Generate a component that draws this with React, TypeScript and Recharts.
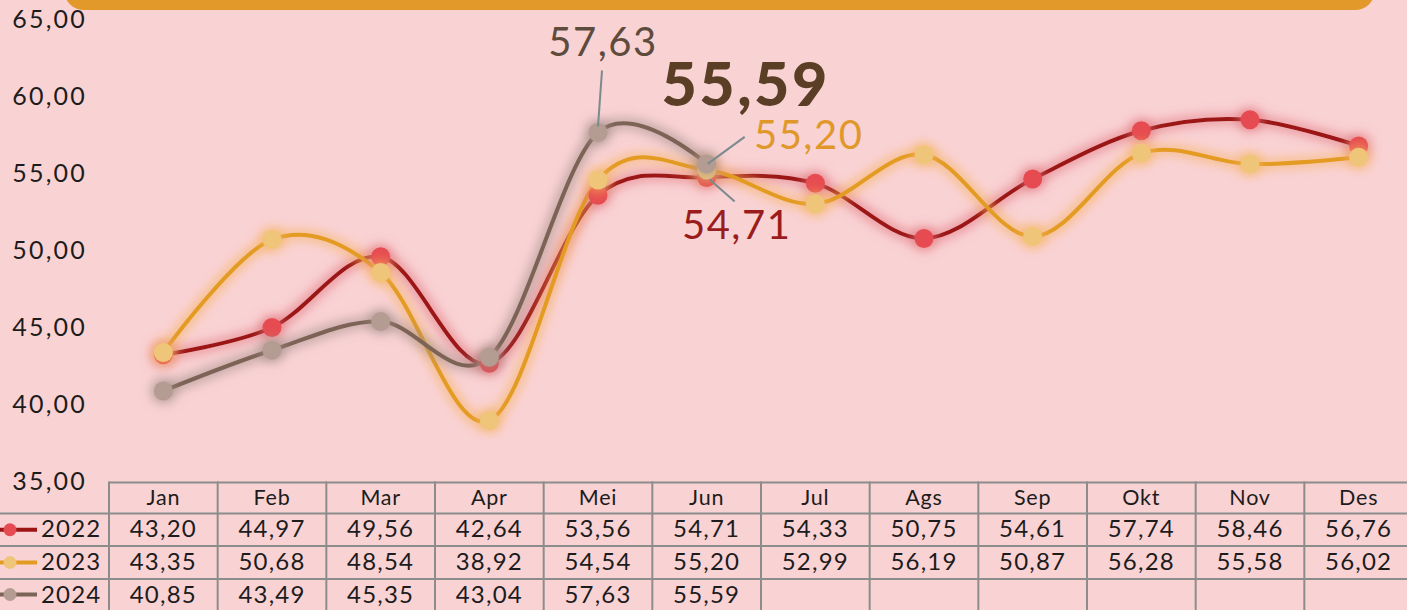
import React from 'react';
import { LineChart, Line, XAxis, YAxis } from 'recharts';

const months = ['Jan', 'Feb', 'Mar', 'Apr', 'Mei', 'Jun', 'Jul', 'Ags', 'Sep', 'Okt', 'Nov', 'Des'];
const values2022 = [43.2, 44.97, 49.56, 42.64, 53.56, 54.71, 54.33, 50.75, 54.61, 57.74, 58.46, 56.76];
const values2023 = [43.35, 50.68, 48.54, 38.92, 54.54, 55.2, 52.99, 56.19, 50.87, 56.28, 55.58, 56.02];
const values2024: (number | null)[] = [40.85, 43.49, 45.35, 43.04, 57.63, 55.59, null, null, null, null, null, null];
const yTicks = [35, 40, 45, 50, 55, 60, 65];

const data = months.map((m, i) => ({
  month: m,
  y2022: values2022[i],
  y2023: values2023[i],
  y2024: values2024[i],
}));

const series = [
  { key: 'y2022', name: '2022', line: '#9c1515', dot: '#e64b51', glow: '#e0717a' },
  { key: 'y2023', name: '2023', line: '#e39b22', dot: '#efc57a', glow: '#f5b25a' },
  { key: 'y2024', name: '2024', line: '#7b6457', dot: '#b49c93', glow: '#a08a84' },
];

const annotations = [
  { key: 'y2024', month: 'Mei', dx: 5, dy: -76, size: 40, weight: 400, color: '#5e4b3c', leader: [4, -62, 0, -6] },
  { key: 'y2024', month: 'Jun', dx: 39, dy: -58, size: 61, weight: 900, color: '#5a3e25', leader: null },
  { key: 'y2023', month: 'Jun', dx: 102, dy: -21, size: 40, weight: 400, color: '#e0982a', leader: [38, -33, 1, -6] },
  { key: 'y2022', month: 'Jun', dx: 30, dy: 62, size: 40, weight: 400, color: '#9b1c1c', leader: [3, 2, 28, 24] },
];

const FONT = 'Lato, "Open Sans", sans-serif';
const CHART_W = 1413;
const CHART_H = 610;
const Y_AXIS_W = 109;
const X_AXIS_H = 129;
const BAND = (CHART_W - Y_AXIS_W) / months.length;
const GRID = '#8c8c8c';

const fmt = (v: number | null | undefined) => (v == null ? '' : v.toFixed(2).replace('.', ','));

// Cardinal (Catmull-Rom like) spline, tension 0 – similar to spreadsheet smoothing
function smoothCurve(context: any) {
  let x0 = NaN, y0 = NaN, x1 = NaN, y1 = NaN, x2 = NaN, y2 = NaN;
  let pt = 0;
  let line: number = NaN;
  const k = 1 / 6;
  const seg = (x: number, y: number) => {
    context.bezierCurveTo(x1 + k * (x2 - x0), y1 + k * (y2 - y0), x2 + k * (x1 - x), y2 + k * (y1 - y), x2, y2);
  };
  return {
    areaStart() { line = 0; },
    areaEnd() { line = NaN; },
    lineStart() { x0 = x1 = x2 = y0 = y1 = y2 = NaN; pt = 0; },
    lineEnd() {
      if (pt === 2) context.lineTo(x2, y2);
      else if (pt === 3) seg(x1, y1);
      if (line || (line !== 0 && pt === 1)) context.closePath();
      line = 1 - line;
    },
    point(xx: number, yy: number) {
      const x = +xx, y = +yy;
      if (pt === 0) { pt = 1; if (line) context.lineTo(x, y); else context.moveTo(x, y); }
      else if (pt === 1) { pt = 2; x1 = x; y1 = y; }
      else { pt = 3; seg(x, y); }
      x0 = x1; x1 = x2; x2 = x;
      y0 = y1; y1 = y2; y2 = y;
    },
  };
}

const TableTick = (props: any) => {
  const { x, y, payload } = props;
  const i: number = payload.index;
  const left = x - BAND / 2;
  const right = x + BAND / 2;
  const top = y + 1.5;
  const lines = [top, top + 31, top + 63.5, top + 96.5];
  const baselines = [top + 54.5, top + 87.5, top + 120.5];
  const cols = [values2022, values2023, values2024];
  return (
    <g>
      {lines.map((ly, k) => (
        <line key={'h' + k} x1={left} x2={right} y1={ly} y2={ly} stroke={GRID} strokeWidth={2} />
      ))}
      <line x1={left} x2={left} y1={top - 1} y2={CHART_H} stroke={GRID} strokeWidth={2} />
      {i === months.length - 1 && (
        <line x1={right} x2={right} y1={top - 1} y2={CHART_H} stroke={GRID} strokeWidth={2} />
      )}
      <text x={x} y={top + 22.5} textAnchor="middle" fontSize={21.5} fontFamily={FONT} fill="#1c1c1c" letterSpacing={0.8}>
        {payload.value}
      </text>
      {cols.map((c, k) => (
        <text key={'v' + k} x={x} y={baselines[k]} textAnchor="middle" fontSize={24} fontFamily={FONT} fill="#1c1c1c" letterSpacing={1.2}>
          {fmt(c[i])}
        </text>
      ))}
      {i === 0 && (
        <g>
          {lines.slice(1).map((ly, k) => (
            <line key={'lh' + k} x1={0} x2={left} y1={ly} y2={ly} stroke={GRID} strokeWidth={2} />
          ))}
          {series.map((s, k) => {
            const cy = (lines[k + 1] + (lines[k + 2] ?? CHART_H)) / 2;
            return (
              <g key={'lg' + k}>
                <line x1={0} x2={37} y1={cy} y2={cy} stroke={s.line} strokeWidth={4} />
                <circle cx={10} cy={cy} r={6.5} fill={s.dot} />
                <text x={41} y={baselines[k]} fontSize={24} fontFamily={FONT} fill="#1c1c1c" letterSpacing={1.2}>
                  {s.name}
                </text>
              </g>
            );
          })}
        </g>
      )}
    </g>
  );
};

const makeLabel = (key: string) => (p: any) => {
  const { x, y, value, index } = p;
  const a = annotations.find((an) => an.key === key && an.month === months[index]);
  if (!a || x == null || y == null) return <g />;
  return (
    <g>
      {a.leader && (
        <line x1={x + a.leader[0]} y1={y + a.leader[1]} x2={x + a.leader[2]} y2={y + a.leader[3]} stroke="#7a8a8e" strokeWidth={2} />
      )}
      <text x={x + a.dx} y={y + a.dy} textAnchor="middle" fontSize={a.size} fontWeight={a.weight} fontFamily={FONT} fill={a.color} letterSpacing={a.weight > 500 ? 2.5 : 1.5}>
        {fmt(value)}
      </text>
    </g>
  );
};

export default function App() {
  return (
    <div style={{ position: 'absolute', left: 0, top: 0, width: 1407, height: 610, overflow: 'hidden', background: '#f9d2d4' }}>
      <div style={{ position: 'absolute', left: 64, top: -30, width: 1311, height: 40, background: '#e2992a', borderRadius: 28 }} />
      <LineChart width={CHART_W} height={CHART_H} data={data} margin={{ top: 19, right: 0, bottom: 0, left: 0 }}>
        <defs>
          {series.map((s) => (
            <filter key={s.key} id={'glow-' + s.key} filterUnits="userSpaceOnUse" x={0} y={0} width={CHART_W} height={CHART_H}>
              <feMorphology in="SourceAlpha" operator="dilate" radius={2} result="thick" />
              <feFlood floodColor={s.glow} floodOpacity={0.75} result="color" />
              <feComposite in="color" in2="thick" operator="in" result="shape" />
              <feGaussianBlur in="shape" stdDeviation={6} result="blur" />
              <feMerge>
                <feMergeNode in="blur" />
                <feMergeNode in="SourceGraphic" />
              </feMerge>
            </filter>
          ))}
        </defs>
        <XAxis
          dataKey="month"
          scale="band"
          height={X_AXIS_H}
          interval={0}
          axisLine={false}
          tickLine={false}
          tickSize={0}
          tickMargin={0}
          tick={<TableTick />}
        />
        <YAxis
          type="number"
          domain={[35, 65]}
          ticks={yTicks}
          width={Y_AXIS_W}
          axisLine={false}
          tickLine={false}
          tickSize={0}
          tickMargin={22}
          tickFormatter={(v: number) => fmt(v)}
          tick={{ fontSize: 25, fontFamily: FONT, fill: '#1c1c1c', letterSpacing: 2.2 }}
        />
        {series.map((s) => (
          <Line
            key={s.key}
            dataKey={s.key}
            type={smoothCurve as any}
            stroke={s.line}
            strokeWidth={4}
            filter={`url(#glow-${s.key})`}
            dot={{ r: 9.5, fill: s.dot, stroke: 'none', strokeWidth: 0, filter: `url(#glow-${s.key})` }}
            activeDot={false}
            isAnimationActive={false}
            label={makeLabel(s.key)}
          />
        ))}
      </LineChart>
    </div>
  );
}
